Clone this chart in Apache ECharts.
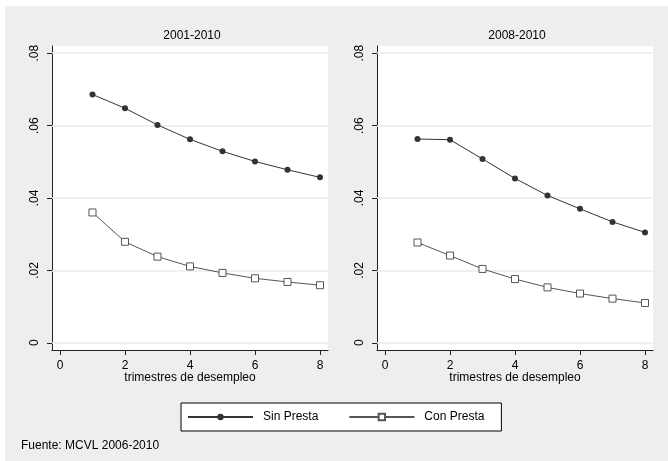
<!DOCTYPE html>
<html>
<head>
<meta charset="utf-8">
<script src="https://cdn.jsdelivr.net/npm/echarts@6/dist/echarts.min.js"></script>
<style>
html, body { margin: 0; padding: 0; background: #fff; }
#chart { width: 668px; height: 461px; }
</style>
</head>
<body>
<div id="chart"></div>
<script>
// datos
var trimestres = [1, 2, 3, 4, 5, 6, 7, 8];
var sinPresta0110 = [0.0686, 0.0648, 0.0602, 0.0562, 0.0529, 0.0501, 0.0478, 0.0457];
var conPresta0110 = [0.0360, 0.0279, 0.0238, 0.0211, 0.0193, 0.0178, 0.0168, 0.0159];
var sinPresta0810 = [0.0563, 0.0561, 0.0508, 0.0454, 0.0407, 0.0370, 0.0334, 0.0305];
var conPresta0810 = [0.0277, 0.0241, 0.0204, 0.0176, 0.0153, 0.0136, 0.0122, 0.0110];
var xTicks = [0, 2, 4, 6, 8];
var yTicks = [0, 0.02, 0.04, 0.06, 0.08];
var titulos = ['2001-2010', '2008-2010'];
var nombres = ['Sin Presta', 'Con Presta'];

var FONT = '"Liberation Sans", Arial, sans-serif';

function pares(vals) {
    var out = [];
    for (var i = 0; i < trimestres.length; i++) {
        out.push([trimestres[i], vals[i]]);
    }
    return out;
}

function fmtY(v) {
    if (Math.abs(v) < 1e-9) return '0';
    return v.toFixed(2).replace(/^0\./, '.');
}

var gridLeft = [52, 377];
var grids = [], xAxes = [], yAxes = [], series = [];
var datos = [[sinPresta0110, conPresta0110], [sinPresta0810, conPresta0810]];

for (var p = 0; p < 2; p++) {
    grids.push({
        left: gridLeft[p], top: 46, width: 276, height: 304,
        show: true, backgroundColor: '#fff', borderWidth: 0
    });
    xAxes.push({
        type: 'value', gridIndex: p,
        min: -0.246, max: 8.246,
        name: 'trimestres de desempleo',
        nameLocation: 'middle', nameGap: 22, nameMoveOverlap: false,
        nameTextStyle: {color: '#000', fontSize: 12, fontFamily: FONT},
        axisLine: {onZero: false, lineStyle: {color: '#222', width: 1}},
        axisTick: {show: true, length: 5, customValues: xTicks, lineStyle: {color: '#222'}},
        axisLabel: {customValues: xTicks, color: '#000', fontSize: 12, fontFamily: FONT, margin: 10},
        splitLine: {show: false}
    });
    yAxes.push({
        type: 'value', gridIndex: p,
        min: -0.002, max: 0.082,
        axisLine: {show: true, onZero: false, lineStyle: {color: '#222', width: 1}},
        axisTick: {show: true, length: 5, customValues: yTicks, lineStyle: {color: '#222'}},
        axisLabel: {customValues: yTicks, rotate: 90, color: '#000', fontSize: 12, fontFamily: FONT,
                    margin: 11, formatter: fmtY},
        splitLine: {show: false}
    });
    var lineas = [];
    for (var k = 0; k < yTicks.length; k++) lineas.push({yAxis: yTicks[k]});
    series.push({
        name: nombres[0], type: 'line', xAxisIndex: p, yAxisIndex: p,
        data: pares(datos[p][0]),
        symbol: 'circle', symbolSize: 6,
        itemStyle: {color: '#333'},
        lineStyle: {color: '#333', width: 1},
        markLine: {
            silent: true, symbol: ['none', 'none'],
            label: {show: false},
            lineStyle: {color: '#ebebeb', width: 1.5, type: 'solid'},
            data: lineas, z: 1
        },
        z: 3
    });
    series.push({
        name: nombres[1], type: 'line', xAxisIndex: p, yAxisIndex: p,
        data: pares(datos[p][1]),
        symbol: 'rect', symbolSize: 7,
        itemStyle: {color: '#fff', borderColor: '#555', borderWidth: 1},
        lineStyle: {color: '#555', width: 1},
        z: 3
    });
}

var chart = echarts.init(document.getElementById('chart'));
chart.setOption({
    backgroundColor: '#fff',
    animation: false,
    graphic: [{
        type: 'rect', left: 5, top: 6, z: -10,
        shape: {width: 663, height: 455},
        style: {fill: '#eeeeee'}
    }],
    title: [
        {text: titulos[0], left: 187, top: 25, textAlign: 'center',
         textStyle: {fontSize: 12, fontWeight: 'normal', color: '#000', fontFamily: FONT}},
        {text: titulos[1], left: 512, top: 25, textAlign: 'center',
         textStyle: {fontSize: 12, fontWeight: 'normal', color: '#000', fontFamily: FONT}},
        {text: 'Fuente: MCVL 2006-2010', left: 21, top: 440, padding: 0,
         textStyle: {fontSize: 12, fontWeight: 'normal', color: '#000', fontFamily: FONT}}
    ],
    legend: {
        data: nombres,
        left: 181, top: 403,
        padding: [8, 17, 8, 6],
        itemGap: 30, itemWidth: 65, itemHeight: 8,
        backgroundColor: '#fff', borderColor: '#000', borderWidth: 1, borderRadius: 0,
        textStyle: {color: '#000', fontSize: 12, fontFamily: FONT, padding: [0, 0, 0, 5]}
    },
    grid: grids,
    xAxis: xAxes,
    yAxis: yAxes,
    series: series
});
</script>
</body>
</html>
